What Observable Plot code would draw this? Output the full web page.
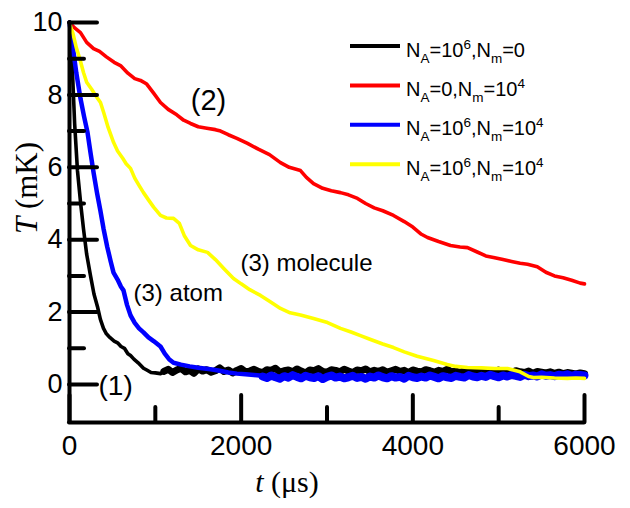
<!DOCTYPE html>
<html>
<head>
<meta charset="utf-8">
<script src="https://cdn.jsdelivr.net/npm/d3@7"></script>
<script src="https://cdn.jsdelivr.net/npm/@observablehq/plot@0.6"></script>
<style>
  html, body { margin: 0; padding: 0; background: #fff; }
  #chart { width: 630px; height: 508px; }
</style>
</head>
<body>
<div id="chart"></div>
<script>
// ---- data ----
const blackHead = [[0,10],[30,8.9],[60,7.2],[93,5.9],[130,5.0],[163,4.3],[200,3.6],[245,3.0],[285,2.5],[326,2.15],[360,1.8],[396,1.55],[430,1.4],[470,1.3],[520,1.2],[560,1.15],[600,1.05],[640,1.0],[680,0.85],[711,0.8],[750,0.7],[800,0.6],[862,0.45],[900,0.4],[950,0.33],[1000,0.32],[1060,0.3],[1100,0.36]];
const tailStep = 50;
const blackTailStart = 1100;
const blackTail = [
0.36,0.42,0.33,0.40,0.45,0.35,0.39,0.31,0.43,0.37,
0.41,0.34,0.38,0.46,0.36,0.40,0.32,0.39,0.44,0.35,
0.37,0.42,0.36,0.33,0.41,0.39,0.45,0.34,0.38,0.40,
0.35,0.43,0.37,0.32,0.40,0.38,0.44,0.36,0.34,0.41,
0.39,0.35,0.42,0.37,0.33,0.40,0.38,0.43,0.35,0.39,
0.36,0.41,0.34,0.38,0.42,0.36,0.39,0.33,0.40,0.37,
0.35,0.41,0.38,0.34,0.39,0.36,0.42,0.35,0.37,0.33,
0.38,0.40,0.34,0.36,0.39,0.33,0.37,0.35,0.40,0.34,
0.36,0.32,0.38,0.35,0.33,0.37,0.31,0.36,0.34,0.32,
0.35,0.31,0.34,0.30,0.33,0.31,0.29,0.32,0.30];

const red = [[0,10],[60,9.85],[128,9.72],[200,9.45],[280,9.28],[350,9.2],[430,9.05],[520,8.9],[594,8.81],[680,8.6],[760,8.45],[827,8.40],[900,8.3],[980,8.05],[1060,7.79],[1150,7.6],[1250,7.45],[1330,7.3],[1410,7.21],[1500,7.12],[1600,7.08],[1700,7.04],[1760,7.0],[1850,6.9],[1950,6.8],[2074,6.66],[2200,6.5],[2330,6.35],[2458,6.13],[2560,6.0],[2691,5.91],[2760,5.72],[2843,5.55],[2950,5.42],[3050,5.35],[3157,5.30],[3250,5.24],[3355,5.14],[3450,5.0],[3550,4.88],[3650,4.8],[3775,4.67],[3900,4.5],[4000,4.35],[4100,4.15],[4171,4.06],[4300,3.95],[4439,3.84],[4550,3.8],[4637,3.78],[4750,3.66],[4850,3.55],[4940,3.51],[5050,3.45],[5150,3.4],[5250,3.35],[5336,3.32],[5450,3.25],[5550,3.1],[5650,3.0],[5750,2.95],[5850,2.88],[5950,2.8],[6000,2.78]];

const blueHead = [[0,10],[40,9.3],[80,8.6],[128,7.9],[170,7.4],[210,6.96],[245,6.4],[280,5.86],[320,5.3],[360,4.8],[396,4.31],[440,3.8],[480,3.4],[513,3.09],[560,2.9],[600,2.7],[629,2.6],[670,2.2],[711,1.91],[760,1.7],[810,1.55],[862,1.44],[920,1.3],[980,1.2],[1060,1.05],[1110,0.85],[1160,0.7],[1212,0.6],[1300,0.55],[1400,0.5],[1500,0.46],[1643,0.42],[1750,0.38],[1850,0.33],[1950,0.3],[2050,0.28],[2150,0.26],[2250,0.24]];
const blueTailStart = 2250;
const blueTail = [
0.22,0.18,0.25,0.20,0.16,0.23,0.19,0.26,0.21,0.17,
0.24,0.20,0.18,0.23,0.15,0.21,0.25,0.19,0.22,0.17,
0.20,0.24,0.18,0.21,0.16,0.22,0.19,0.25,0.20,0.17,
0.23,0.19,0.21,0.16,0.24,0.20,0.18,0.22,0.19,0.25,
0.21,0.17,0.23,0.20,0.18,0.24,0.21,0.19,0.26,0.22,
0.20,0.24,0.21,0.27,0.23,0.20,0.25,0.22,0.26,0.24,
0.21,0.27,0.23,0.25,0.22,0.28,0.24,0.26,0.23,0.27,
0.25,0.28,0.24,0.27,0.26,0.25];

const yellow = [[0,9.97],[40,9.7],[80,9.3],[120,9.0],[163,8.62],[200,8.35],[260,8.15],[300,8.0],[361,7.79],[400,7.5],[450,7.1],[513,6.69],[560,6.45],[620,6.25],[660,6.1],[711,5.97],[760,5.7],[810,5.5],[862,5.30],[920,5.1],[980,4.9],[1060,4.67],[1130,4.6],[1212,4.59],[1280,4.45],[1340,4.1],[1410,3.84],[1500,3.72],[1608,3.65],[1700,3.45],[1800,3.2],[1911,2.93],[2000,2.78],[2100,2.62],[2225,2.46],[2330,2.3],[2458,2.10],[2570,1.98],[2691,1.92],[2843,1.82],[3006,1.71],[3157,1.55],[3280,1.45],[3390,1.35],[3500,1.25],[3650,1.12],[3775,1.02],[3900,0.9],[4050,0.78],[4241,0.66],[4400,0.55],[4500,0.5],[4637,0.47],[4800,0.46],[4950,0.44],[5103,0.44],[5250,0.35],[5350,0.22],[5406,0.19],[5500,0.2],[5650,0.18],[5800,0.17],[5900,0.18],[6000,0.17]];

const xTicksMajor = [0, 2000, 4000, 6000];
const xTicksMinor = [1000, 3000, 5000];
const yTicksMajor = [0, 2, 4, 6, 8, 10];
const yTicksMinor = [1, 3, 5, 7, 9];

const seriesNames = ["black", "red", "blue", "yellow"];
const seriesColors = ["#000000", "#ff0000", "#0000ff", "#ffff00"];
const legendLabels = [
  [["N",0],["A",1],["=10",0],["6",2],[",N",0],["m",1],["=0",0]],
  [["N",0],["A",1],["=0,N",0],["m",1],["=10",0],["4",2]],
  [["N",0],["A",1],["=10",0],["6",2],[",N",0],["m",1],["=10",0],["4",2]],
  [["N",0],["A",1],["=10",0],["6",2],[",N",0],["m",1],["=10",0],["4",2]]
];
const annotationsCentered = [
  {t: 1620, T: 7.85, text: "(2)", size: 29}
];
const annotationsLeft = [
  {t: 746, T: 2.51, text: "(3) atom", size: 24},
  {t: 1992, T: 3.34, text: "(3) molecule", size: 24},
  {t: 338, T: -0.03, text: "(1)", size: 28}
];

// ---- build tables ----
const toRows = (arr) => arr.map(([t, T]) => ({t, T}));
const tailRows = (start, vals) => vals.map((T, i) => ({t: start + i * tailStep, T}));

const W = 630, H = 508;
const mL = 69, mR = 46, mT = 22, mB = 86;
const xDom = [0, 6000], yDom = [-1.05, 10];
const pxPerX = (W - mL - mR) / (xDom[1] - xDom[0]);
const pxPerY = (H - mT - mB) / (yDom[1] - yDom[0]);
const yMajLen = 28 / pxPerX, yMinLen = 15 / pxPerX;
const xMajLen = 27 / pxPerY, xMinLen = 15 / pxPerY;

const axisStyle = {stroke: "black", strokeWidth: 4, strokeLinecap: "round"};
const lineStyle = {x: "t", y: "T", strokeWidth: 3.6, strokeLinejoin: "round", strokeLinecap: "round"};
const tailStyle = {x: "t", y: "T", strokeLinejoin: "round", strokeLinecap: "round"};

const plot = Plot.plot({
  width: W, height: H,
  marginLeft: mL, marginRight: mR, marginTop: mT, marginBottom: mB,
  x: {domain: xDom},
  y: {domain: yDom},
  style: {fontFamily: "'Liberation Sans', Arial, sans-serif", color: "black", background: "white"},
  marks: [
    Plot.line(toRows(blackHead), {...lineStyle, stroke: seriesColors[0]}),
    Plot.line(tailRows(blackTailStart, blackTail), {...tailStyle, strokeWidth: 7, stroke: seriesColors[0]}),
    Plot.line(toRows(red), {...lineStyle, stroke: seriesColors[1]}),
    Plot.line(toRows(blueHead), {...lineStyle, strokeWidth: 4.5, stroke: seriesColors[2]}),
    Plot.line(tailRows(blueTailStart, blueTail), {...tailStyle, strokeWidth: 8, stroke: seriesColors[2]}),
    Plot.line(toRows(yellow), {...lineStyle, stroke: seriesColors[3]}),
    // axis lines
    Plot.ruleX([xDom[0]], {y1: yDom[0], y2: yDom[1], ...axisStyle}),
    Plot.ruleY([yDom[0]], {x1: xDom[0], x2: xDom[1], ...axisStyle}),
    // inward ticks
    Plot.ruleY(yTicksMajor, {y: d => d, x1: xDom[0], x2: xDom[0] + yMajLen, ...axisStyle}),
    Plot.ruleY(yTicksMinor, {y: d => d, x1: xDom[0], x2: xDom[0] + yMinLen, ...axisStyle}),
    Plot.ruleX(xTicksMajor, {x: d => d, y1: yDom[0], y2: yDom[0] + xMajLen, ...axisStyle}),
    Plot.ruleX(xTicksMinor, {x: d => d, y1: yDom[0], y2: yDom[0] + xMinLen, ...axisStyle}),
    Plot.axisX({ticks: xTicksMajor, tickSize: 0, tickPadding: 13, fontSize: 28, label: null, tickFormat: d => String(d)}),
    Plot.axisY({ticks: yTicksMajor, tickSize: 0, tickPadding: 7, fontSize: 27, label: null, tickFormat: d => String(d)}),
    Plot.text(annotationsCentered, {x: "t", y: "T", text: "text", fontSize: 29, textAnchor: "middle", fill: "black"}),
    Plot.text(annotationsLeft, {x: "t", y: "T", text: "text", fontSize: d => d.size, textAnchor: "start", fill: "black"})
  ]
});
document.getElementById("chart").appendChild(plot);

// ---- legend and axis titles ----
const svg = d3.select(plot);
const lgX0 = 350, lgX1 = 400, lgTextX = 406, lgY0 = 46, lgDy = 39.4;
seriesNames.forEach((name, i) => {
  const y = lgY0 + i * lgDy;
  svg.append("line").attr("x1", lgX0).attr("x2", lgX1).attr("y1", y).attr("y2", y)
    .attr("stroke", seriesColors[i]).attr("stroke-width", 4);
  const txt = svg.append("text").attr("x", lgTextX).attr("y", y + 10.5)
    .attr("text-anchor", "start")
    .attr("font-family", "'Liberation Sans', Arial, sans-serif").attr("font-size", 20).attr("fill", "black");
  let shift = 0;
  legendLabels[i].forEach(([s, kind]) => {
    const target = kind === 1 ? 6 : kind === 2 ? -8 : 0;
    const ts = txt.append("tspan").attr("dy", target - shift).text(s);
    if (kind) ts.attr("font-size", 13.5);
    shift = target;
  });
});

svg.append("text")
  .attr("transform", "translate(37,188) rotate(-90)")
  .attr("text-anchor", "middle")
  .attr("font-family", "'Liberation Serif', 'Times New Roman', serif")
  .attr("font-size", 31).attr("fill", "black")
  .call(t => { t.append("tspan").attr("font-style", "italic").text("T"); t.append("tspan").text(" (mK)"); });

svg.append("text")
  .attr("x", 287).attr("y", 492)
  .attr("text-anchor", "middle")
  .attr("font-family", "'Liberation Serif', 'Times New Roman', serif")
  .attr("font-size", 30).attr("fill", "black")
  .call(t => { t.append("tspan").attr("font-style", "italic").text("t"); t.append("tspan").text(" (μs)"); });
</script>
</body>
</html>
